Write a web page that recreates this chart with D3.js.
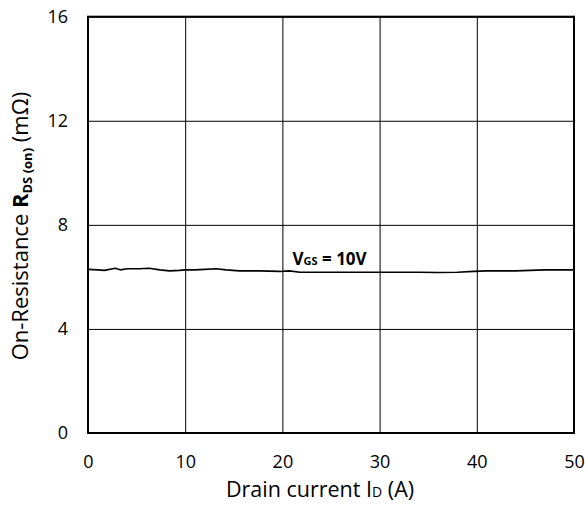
<!DOCTYPE html>
<html>
<head>
<meta charset="utf-8">
<script src="https://cdn.jsdelivr.net/npm/d3@7"></script>
<style>
  body { margin: 0; background: #fff; }
  svg { font-family: 'Open Sans', sans-serif; }
</style>
</head>
<body>
<div id="grafico"></div>
<script>
const corriente = [0, 0, 0, 0, 1, 1.7, 2.8, 3.3, 4.1, 5.3, 6.3, 7.4, 8.4, 9.4, 10, 11, 12, 13.2, 14.2, 15.6, 17.6, 19.7, 20.7, 21.8, 23.9, 26, 28, 30, 32, 34, 36, 38, 39.7, 41, 42.5, 44, 45.5, 47, 48.5, 50]
const resistencia = [0, 3.0, null, 6.29, 6.27, 6.25, 6.33, 6.27, 6.31, 6.31, 6.33, 6.27, 6.23, 6.25, 6.27, 6.27, 6.29, 6.31, 6.27, 6.23, 6.23, 6.21, 6.23, 6.18, 6.18, 6.18, 6.18, 6.18, 6.18, 6.18, 6.17, 6.18, 6.21, 6.23, 6.23, 6.23, 6.25, 6.27, 6.27, 6.27]
const ticksX = [0, 10, 20, 30, 40, 50]
const ticksY = [0, 4, 8, 12, 16]

const width = 585
const height = 505
const margin = { top: 16.7, right: 11, bottom: 72, left: 88 }

let svg = d3.select('#grafico')
    .append('svg')
    .attr('width', width)
    .attr('height', height)

let x = d3.scaleLinear().domain([0, 50]).range([margin.left, width - margin.right])
let y = d3.scaleLinear().domain([0, 16]).range([height - margin.bottom, margin.top])

// rejilla
svg.append('g')
    .attr('transform', `translate(0,${y(0)})`)
    .call(d3.axisBottom(x).tickValues(ticksX).tickSize(-(y(0) - y(16))).tickFormat(''))
    .call(g => g.select('.domain').remove())
    .call(g => g.selectAll('line').attr('stroke', '#000').attr('stroke-width', 1))

svg.append('g')
    .attr('transform', `translate(${x(0)},0)`)
    .call(d3.axisLeft(y).tickValues(ticksY).tickSize(-(x(50) - x(0))).tickFormat(''))
    .call(g => g.select('.domain').remove())
    .call(g => g.selectAll('line').attr('stroke', '#000').attr('stroke-width', 1))

// etiquetas de los ejes
svg.append('g')
    .attr('transform', `translate(0,${y(0)})`)
    .call(d3.axisBottom(x).tickValues(ticksX).tickSize(0).tickPadding(22))
    .call(g => g.select('.domain').remove())
    .call(g => g.selectAll('text').attr('font-size', 18).attr('fill', '#000').attr('font-family', 'Open Sans'))

svg.append('g')
    .attr('transform', `translate(${x(0)},0)`)
    .call(d3.axisLeft(y).tickValues(ticksY).tickSize(0).tickPadding(20))
    .call(g => g.select('.domain').remove())
    .call(g => g.selectAll('text').attr('font-size', 18).attr('fill', '#000').attr('font-family', 'Open Sans'))

// curva
let linea = d3.line()
    .defined((d) => d !== null)
    .x((d, i) => x(corriente[i]))
    .y((d) => y(d))

svg.append('path')
    .datum(resistencia)
    .attr('d', linea)
    .attr('fill', 'none')
    .attr('stroke', '#000')
    .attr('stroke-width', 1.6)
    .attr('stroke-linejoin', 'round')

// marco
svg.append('rect')
    .attr('x', x(0))
    .attr('y', y(16))
    .attr('width', x(50) - x(0))
    .attr('height', y(0) - y(16))
    .attr('fill', 'none')
    .attr('stroke', '#000')
    .attr('stroke-width', 2)

// etiqueta VGS
let vgs = svg.append('text')
    .attr('x', 292.5)
    .attr('y', 264.5)
    .attr('font-weight', 'bold')
    .attr('font-size', 17)
    .attr('fill', '#000')
vgs.append('tspan').text('V')
vgs.append('tspan').attr('font-size', 11).text('GS')
vgs.append('tspan').text(' = 10V')

// titulo eje x
let tituloX = svg.append('text')
    .attr('x', 320)
    .attr('y', 497)
    .attr('text-anchor', 'middle')
    .attr('font-size', 21.5)
    .attr('fill', '#000')
tituloX.append('tspan').text('Drain current  I')
tituloX.append('tspan').attr('font-size', 14).text('D')
tituloX.append('tspan').text(' (A)')

// titulo eje y
let tituloY = svg.append('text')
    .attr('transform', 'translate(28,226) rotate(-90)')
    .attr('text-anchor', 'middle')
    .attr('font-size', 22)
    .attr('fill', '#000')
tituloY.append('tspan').text('On-Resistance  ')
tituloY.append('tspan').attr('font-weight', 'bold').text('R')
tituloY.append('tspan').attr('font-weight', 'bold').attr('font-size', 13).attr('dy', 4).text('DS (on)')
tituloY.append('tspan').attr('dy', -4).text(' (mΩ)')
</script>
</body>
</html>
